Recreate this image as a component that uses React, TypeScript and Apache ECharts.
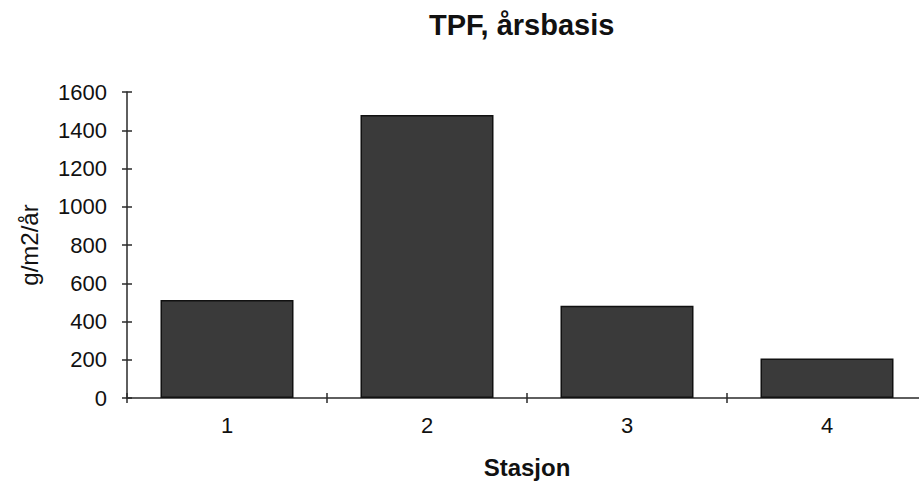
import React, { useEffect, useRef } from "react";
import * as echarts from "echarts";

const titleText = "TPF, årsbasis";
const categories = ["1", "2", "3", "4"];
const values = [512, 1480, 483, 207];
const yName = "g/m2/år";
const xName = "Stasjon";

export default function App() {
  const ref = useRef<HTMLDivElement>(null);
  useEffect(() => {
    if (!ref.current) return;
    const chart = echarts.init(ref.current, null, { renderer: "svg" });
    const font = "'Liberation Sans', Arial, Helvetica, sans-serif";
    const axisColor = "#2a2a2a";
    chart.setOption({
      animation: false,
      backgroundColor: "#ffffff",
      textStyle: { fontFamily: font },
      title: {
        text: titleText,
        left: 424,
        top: 5,
        textStyle: { fontFamily: font, fontSize: 29, fontWeight: "bold", color: "#111" },
      },
      grid: { left: 127, width: 800, top: 92, height: 306, containLabel: false },
      xAxis: [
        {
          type: "category",
          data: categories,
          position: "bottom",
          name: xName,
          nameLocation: "middle",
          nameGap: 57,
          nameTextStyle: { fontFamily: font, fontSize: 24, fontWeight: "bold", color: "#111" },
          axisLine: { show: true, lineStyle: { color: axisColor, width: 1.5 } },
          axisTick: { show: true, length: 5, lineStyle: { color: axisColor, width: 1.5 } },
          axisLabel: { margin: 16, fontFamily: font, fontSize: 22, color: "#111" },
          splitLine: { show: false },
        },
        {
          type: "category",
          data: categories,
          position: "bottom",
          axisLine: { show: false },
          axisTick: { show: true, inside: true, length: 5, lineStyle: { color: axisColor, width: 1.5 } },
          axisLabel: { show: false },
          splitLine: { show: false },
        },
      ],
      yAxis: [
        {
          type: "value",
          min: 0,
          max: 1600,
          interval: 200,
          position: "left",
          name: yName,
          nameLocation: "middle",
          nameRotate: 90,
          nameGap: 86,
          nameTextStyle: { fontFamily: font, fontSize: 24, color: "#111" },
          axisLine: { show: true, lineStyle: { color: axisColor, width: 1.5 } },
          axisTick: { show: true, length: 5, lineStyle: { color: axisColor, width: 1.5 } },
          axisLabel: {
            margin: 20,
            fontFamily: font,
            fontSize: 22,
            color: "#111",
            formatter: (v: number) => String(v),
          },
          splitLine: { show: false },
        },
        {
          type: "value",
          min: 0,
          max: 1600,
          interval: 200,
          position: "left",
          axisLine: { show: false },
          axisTick: { show: true, inside: true, length: 5, lineStyle: { color: axisColor, width: 1.5 } },
          axisLabel: { show: false },
          splitLine: { show: false },
        },
      ],
      series: [
        {
          type: "bar",
          data: values,
          xAxisIndex: 0,
          yAxisIndex: 0,
          barWidth: 133,
          itemStyle: { color: "#3a3a3a", borderColor: "#111", borderWidth: 1.5 },
        },
      ],
    });
    return () => chart.dispose();
  }, []);
  return (
    <div
      ref={ref}
      style={{ position: "fixed", left: 0, top: 0, width: 940, height: 484, background: "#fff" }}
    />
  );
}
